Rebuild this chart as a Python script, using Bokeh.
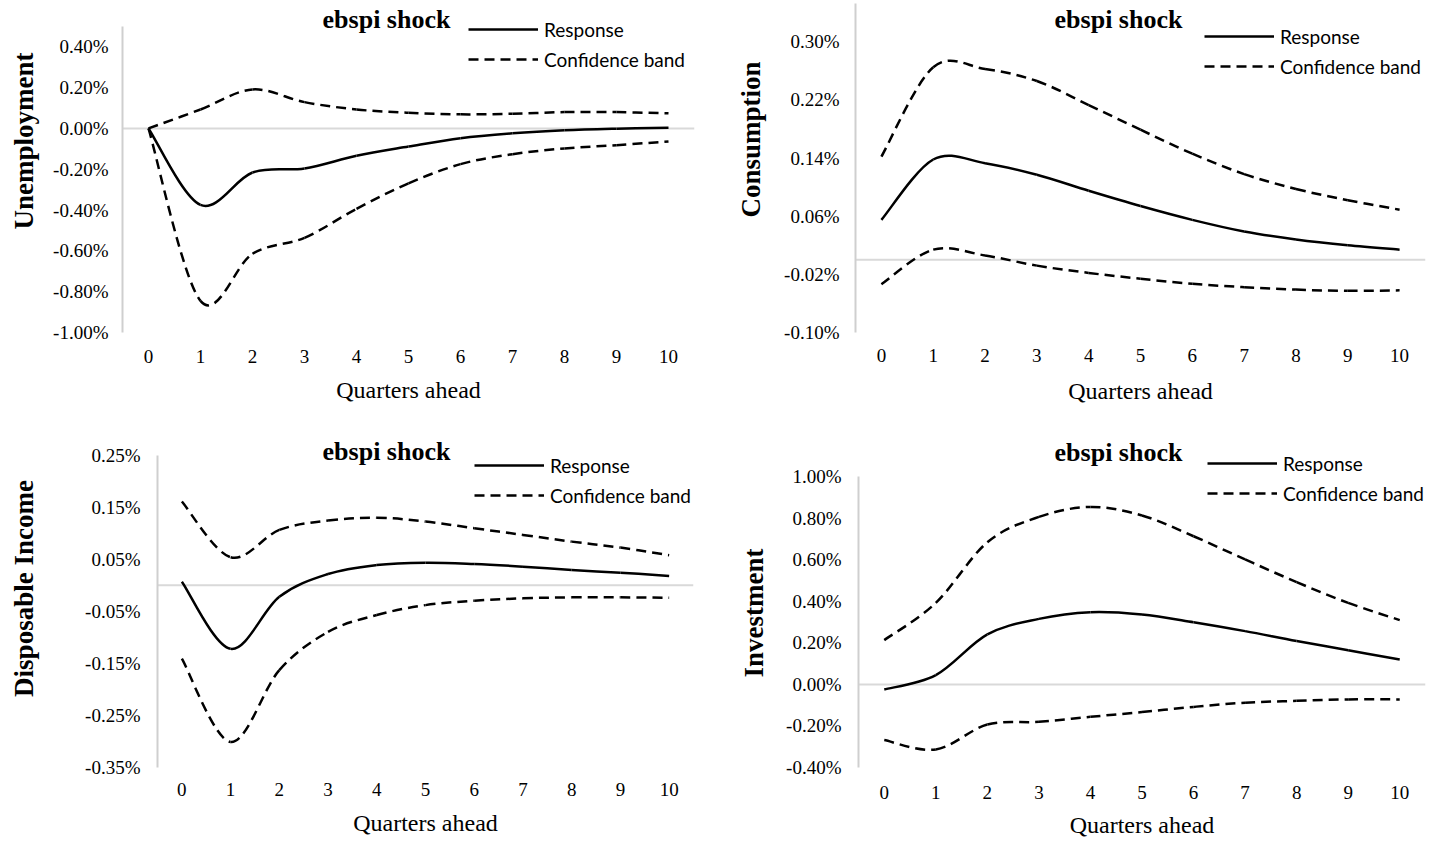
import math
from bokeh.plotting import figure
from bokeh.models import (Range1d, FixedTicker, PrintfTickFormatter, Span, Label,
                          Legend, LegendItem, ColumnDataSource)
from bokeh.layouts import column, row
from bokeh.embed import file_html
from bokeh.resources import INLINE

# ---------------- data (values in percent) ----------------
quarters = [0, 1, 2, 3, 4, 5, 6, 7, 8, 9, 10]

unemp_response = [0.0, -0.375, -0.216, -0.196, -0.134, -0.089, -0.048, -0.024, -0.009, -0.001, 0.004]
unemp_upper = [0.0, 0.093, 0.191, 0.129, 0.093, 0.077, 0.069, 0.072, 0.080, 0.080, 0.074]
unemp_lower = [0.0, -0.845, -0.614, -0.536, -0.394, -0.269, -0.175, -0.126, -0.098, -0.082, -0.064]
unemp_ticks = [-1.0, -0.8, -0.6, -0.4, -0.2, 0.0, 0.2, 0.4]

cons_response = [0.055, 0.138, 0.133, 0.117, 0.095, 0.074, 0.055, 0.039, 0.028, 0.020, 0.014]
cons_upper = [0.142, 0.265, 0.2625, 0.246, 0.213, 0.179, 0.146, 0.118, 0.0975, 0.082, 0.069]
cons_lower = [-0.0335, 0.014, 0.006, -0.008, -0.018, -0.026, -0.033, -0.0376, -0.041, -0.0427, -0.042]
cons_ticks = [-0.10, -0.02, 0.06, 0.14, 0.22, 0.30]

inc_response = [0.007, -0.122, -0.022, 0.0217, 0.039, 0.0436, 0.041, 0.0359, 0.0294, 0.0243, 0.018]
inc_upper = [0.161, 0.054, 0.1065, 0.1245, 0.130, 0.1226, 0.1097, 0.0969, 0.084, 0.0725, 0.058]
inc_lower = [-0.141, -0.301, -0.163, -0.0894, -0.057, -0.038, -0.0296, -0.025, -0.023, -0.023, -0.024]
inc_ticks = [-0.35, -0.25, -0.15, -0.05, 0.05, 0.15, 0.25]

inv_response = [-0.024, 0.045, 0.241, 0.316, 0.348, 0.337, 0.300, 0.257, 0.209, 0.165, 0.120]
inv_upper = [0.2135, 0.393, 0.685, 0.807, 0.855, 0.814, 0.714, 0.602, 0.493, 0.393, 0.310]
inv_lower = [-0.268, -0.313, -0.193, -0.180, -0.156, -0.133, -0.108, -0.088, -0.079, -0.072, -0.072]
inv_ticks = [-0.4, -0.2, 0.0, 0.2, 0.4, 0.6, 0.8, 1.0]

variable_names = ["Unemployment", "Consumption", "Disposable Income", "Investment"]
shock_title = "ebspi shock"
x_title = "Quarters ahead"
legend_labels = ["Response", "Confidence band"]

SERIF = "Liberation Serif"
SANS = "Lato"
GRAY = "#d9d9d9"
AXIS_GRAY = "#cfcfcf"


def smooth_source(xs, ys):
    """Bezier segments through the data points (Excel-like smoothed line)."""
    n = len(xs)
    d = dict(x0=[], y0=[], x1=[], y1=[], cx0=[], cy0=[], cx1=[], cy1=[])
    for i in range(n - 1):
        xp, yp = (xs[i - 1], ys[i - 1]) if i > 0 else (xs[i], ys[i])
        xn, yn = (xs[i + 2], ys[i + 2]) if i + 2 < n else (xs[i + 1], ys[i + 1])
        d["x0"].append(xs[i]); d["y0"].append(ys[i])
        d["x1"].append(xs[i + 1]); d["y1"].append(ys[i + 1])
        d["cx0"].append(xs[i] + (xs[i + 1] - xp) / 6.0)
        d["cy0"].append(ys[i] + (ys[i + 1] - yp) / 6.0)
        d["cx1"].append(xs[i + 1] - (xn - xs[i]) / 6.0)
        d["cy1"].append(ys[i + 1] - (yn - ys[i]) / 6.0)
    return ColumnDataSource(d)


def name_strip(width, height, text, cx, cy_from_frame_bottom):
    """Narrow blank canvas carrying the rotated variable name."""
    f = figure(width=width, height=height, output_backend="svg", toolbar_location=None,
               x_range=Range1d(0, 1), y_range=Range1d(0, 1),
               x_axis_type=None, y_axis_type=None, min_border=0)
    f.outline_line_color = None
    f.background_fill_color = "white"
    f.border_fill_color = "white"
    f.add_layout(Label(x=cx, y=cy_from_frame_bottom, x_units="screen", y_units="screen",
                       text=text, angle=math.pi / 2, text_font=SERIF,
                       text_font_style="bold", text_font_size="27px", text_color="black",
                       text_align="center", text_baseline="middle"))
    return f


def make_panel(width, height, borders, yr, ybounds, yticks, resp, up, lo,
               ytick_standoff, title_xy, legend_xy, xtick_standoff, xlabel_standoff):
    bl, br, bt, bb = borders
    p = figure(width=width, height=height, output_backend="svg", toolbar_location=None,
               x_range=Range1d(-0.5, 10.5), y_range=Range1d(yr[0], yr[1]),
               min_border_left=bl, min_border_right=br, min_border_top=bt,
               min_border_bottom=bb)
    p.background_fill_color = "white"
    p.border_fill_color = "white"
    p.outline_line_color = None
    p.xgrid.visible = False
    p.ygrid.visible = False

    xa = p.xaxis[0]
    xa.ticker = FixedTicker(ticks=quarters)
    xa.axis_line_color = None
    xa.major_tick_line_color = None
    xa.minor_tick_line_color = None
    xa.major_label_standoff = xtick_standoff
    xa.major_label_text_font = SERIF
    xa.major_label_text_font_size = "19px"
    xa.major_label_text_color = "black"
    xa.axis_label = x_title
    xa.axis_label_standoff = xlabel_standoff
    xa.axis_label_text_font = SERIF
    xa.axis_label_text_font_size = "24px"
    xa.axis_label_text_font_style = "normal"
    xa.axis_label_text_color = "black"

    ya = p.yaxis[0]
    ya.ticker = FixedTicker(ticks=yticks)
    ya.bounds = ybounds
    ya.formatter = PrintfTickFormatter(format="%.2f%%")
    ya.axis_line_color = AXIS_GRAY
    ya.axis_line_width = 2
    ya.major_tick_line_color = None
    ya.minor_tick_line_color = None
    ya.major_tick_out = 0
    ya.major_tick_in = 0
    ya.minor_tick_out = 0
    ya.major_label_standoff = ytick_standoff
    ya.major_label_text_font = SERIF
    ya.major_label_text_font_size = "19px"
    ya.major_label_text_color = "black"

    zero = Span(location=0, dimension="width", line_color=GRAY, line_width=2, level="underlay")
    p.add_layout(zero)

    r_resp = p.bezier(source=smooth_source(quarters, resp), x0="x0", y0="y0", x1="x1", y1="y1",
                      cx0="cx0", cy0="cy0", cx1="cx1", cy1="cy1",
                      line_color="black", line_width=2.5)
    r_up = p.bezier(source=smooth_source(quarters, up), x0="x0", y0="y0", x1="x1", y1="y1",
                    cx0="cx0", cy0="cy0", cx1="cx1", cy1="cy1",
                    line_color="black", line_width=2.5, line_dash="10 6")
    p.bezier(source=smooth_source(quarters, lo), x0="x0", y0="y0", x1="x1", y1="y1",
             cx0="cx0", cy0="cy0", cx1="cx1", cy1="cy1",
             line_color="black", line_width=2.5, line_dash="10 6")

    legend = Legend(items=[LegendItem(label=legend_labels[0], renderers=[r_resp]),
                           LegendItem(label=legend_labels[1], renderers=[r_up])],
                    location=legend_xy, orientation="vertical",
                    glyph_width=70, glyph_height=24, label_height=24, label_standoff=6,
                    spacing=6, padding=0, margin=0,
                    border_line_alpha=0, background_fill_alpha=0,
                    label_text_font=SANS, label_text_font_size="19px",
                    label_text_color="black")
    p.add_layout(legend)

    p.add_layout(Label(x=title_xy[0], y=title_xy[1], x_units="screen", y_units="screen",
                       text=shock_title, text_font=SERIF, text_font_style="bold",
                       text_font_size="26px", text_color="black",
                       text_align="center", text_baseline="middle"))
    return p


# strips share the frame bottom of their row (row frame bottoms at y=332 and y=767)
s1 = name_strip(42, 430, variable_names[0], 23, 191.5)
p1 = make_panel(678, 430, (80, 26, 0, 98), (-1.0, 0.627), (-1.0, 0.5), unemp_ticks,
                unemp_response, unemp_upper, unemp_lower,
                14, (264, 313), (346, 261), 11, 11)
s2 = name_strip(50, 430, variable_names[1], 30, 193)
p2 = make_panel(668, 430, (85, 13, 0, 97), (-0.10, 0.3568), (-0.10, 0.352), cons_ticks,
                cons_response, cons_upper, cons_lower,
                16, (263, 313), (349, 254), 10, 13)
s3 = name_strip(42, 412, variable_names[2], 23.3, 179)
p3 = make_panel(678, 412, (115, 27, 0, 74), (-0.35, 0.2975), (-0.35, 0.25), inc_ticks,
                inc_response, inc_upper, inc_lower,
                17, (229, 316), (317, 260), 9, 11)
s4 = name_strip(50, 412, variable_names[3], 33.3, 154.5)
p4 = make_panel(668, 412, (88, 13, 0, 75), (-0.4, 1.2233), (-0.4, 1.0), inv_ticks,
                inv_response, inv_upper, inv_lower,
                17, (260, 315), (349, 262), 12, 10)

layout = column(row(s1, p1, s2, p2), row(s3, p3, s4, p4))
open("out.html", "w").write(file_html(layout, INLINE))
